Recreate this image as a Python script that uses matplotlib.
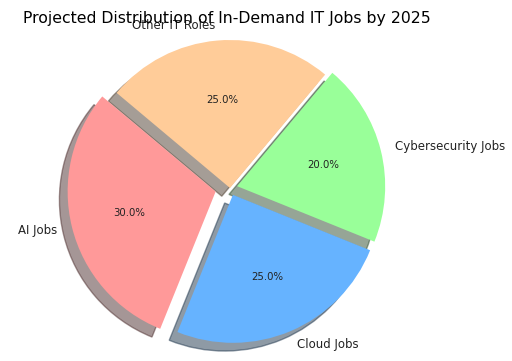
import matplotlib
matplotlib.use("Agg")
import matplotlib.pyplot as plt

labels = ["AI Jobs", "Cloud Jobs", "Cybersecurity Jobs", "Other IT Roles"]
sizes = [30, 25, 20, 25]
colors = ["#ff9999", "#66b3ff", "#99ff99", "#ffcc99"]
explode = (0.1, 0.05, 0.05, 0)
title = "Projected Distribution of In-Demand IT Jobs by 2025"

fig = plt.figure(figsize=(5.12, 3.61), dpi=100)
ax = fig.add_axes([0, 0, 1, 1])
wedges, texts, autotexts = ax.pie(
    sizes, labels=labels, colors=colors, explode=explode,
    autopct="%1.1f%%", startangle=140,
    shadow={"ox": -0.04, "oy": -0.04},
    textprops={"fontsize": 8.5, "color": "#222222"},
)
for t in autotexts:
    t.set_fontsize(7.3)
r = 148.0
cx, cy = 230.0, 361 - 188.0
ax.set_aspect("auto")
ax.set_xlim(-cx / r, (512 - cx) / r)
ax.set_ylim(-cy / r, (361 - cy) / r)
fig.text(0.443, 0.95, title, ha="center", va="center", fontsize=11.3)
fig.savefig("out.png", dpi=100)
